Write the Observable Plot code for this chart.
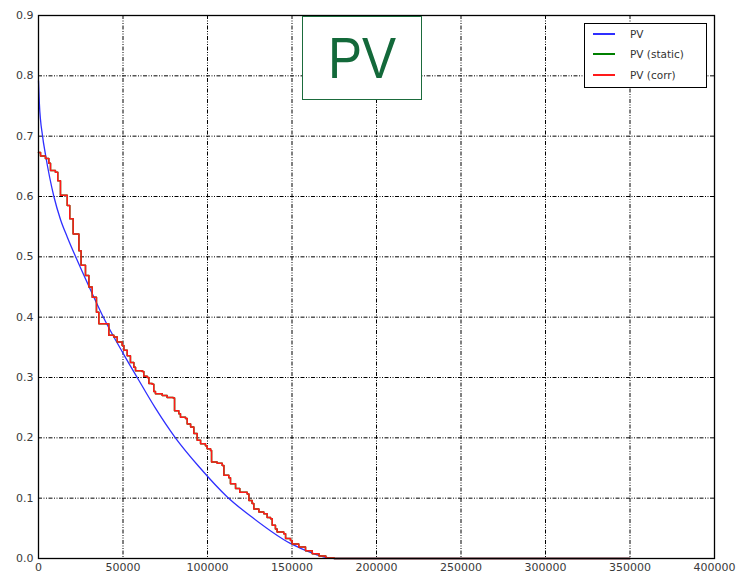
<!DOCTYPE html>
<html>
<head>
<meta charset="utf-8">
<script src="https://cdn.jsdelivr.net/npm/d3@7"></script>
<script src="https://cdn.jsdelivr.net/npm/@observablehq/plot@0.6"></script>
<style>
  html, body { margin: 0; padding: 0; background: #fff; }
  #wrap { position: relative; width: 737px; height: 574px; font-family: "DejaVu Sans", sans-serif; }
  #wrap svg { position: absolute; left: 0; top: 0; }
  .legend { position: absolute; left: 584px; top: 23px; width: 123px; height: 65px; border: 1px solid #000; background: #fff; box-sizing: border-box; }
  .legend .row { position: absolute; left: 0; height: 14px; }
  .legend .sw { position: absolute; left: 8px; width: 22px; top: 6px; height: 1.5px; }
  .legend .lab { position: absolute; left: 45px; top: 0; font-size: 10.5px; line-height: 14px; color: #333; white-space: nowrap; }
  .pvbox { position: absolute; left: 302px; top: 16px; width: 120px; height: 84px; border: 1.5px solid #1b6b3c; box-sizing: border-box; background: #fff; }
  .pvbox span { position: absolute; left: 0; right: 0; top: 6px; text-align: center; font-family: "Liberation Sans", Arial, sans-serif; font-size: 58px; line-height: 70px; color: #13693a; transform: scaleX(0.88); }
</style>
</head>
<body>
<div id="wrap"></div>
<script>
// ---- data ----
const xTicks = [0, 50000, 100000, 150000, 200000, 250000, 300000, 350000, 400000];
const yTicks = [0.0, 0.1, 0.2, 0.3, 0.4, 0.5, 0.6, 0.7, 0.8, 0.9];

const seriesNames = ["PV", "PV (static)", "PV (corr)"];
const seriesColors = ["#2f2fff", "#008000", "#ff1a1a"];

// PV (smooth curve)
const pvX = [0, 500, 2400, 4100, 9100, 13000, 17000, 22000, 30000, 38000, 50500, 58400, 69000, 81000, 95000, 111700, 127000, 149000, 162000, 170000, 175000, 350000];
const pvY = [0.792, 0.755, 0.70, 0.67, 0.60, 0.562, 0.533, 0.50, 0.45, 0.402, 0.338, 0.30, 0.25, 0.20, 0.152, 0.102, 0.067, 0.025, 0.009, 0.002, 0, 0];

// PV (corr) — step function (value holds until next x)
const corrX = [0, 1200, 4100, 6100, 7100, 10000, 11400, 13000, 17000, 18500, 20500, 23900, 25200, 27800, 29800, 31800, 34300, 35700, 41600, 44600, 46600, 49500, 50500, 52500, 54400, 56400, 57400, 61300, 62300, 64300, 65300, 67300, 68200, 69200, 73200, 76100, 79700, 80500, 83000, 84000, 87000, 88000, 90000, 91900, 93900, 95900, 98800, 99800, 101800, 102400, 105700, 108700, 109700, 112600, 113600, 116600, 119100, 123500, 124500, 126400, 127400, 130400, 133300, 135300, 137300, 138300, 140200, 141200, 145100, 146200, 149100, 150100, 154000, 158000, 162000, 166000, 170000, 175000, 350000];
const corrY = [0.673, 0.667, 0.663, 0.655, 0.643, 0.640, 0.626, 0.602, 0.585, 0.563, 0.538, 0.51, 0.486, 0.469, 0.45, 0.433, 0.408, 0.389, 0.37, 0.367, 0.359, 0.353, 0.345, 0.336, 0.325, 0.317, 0.311, 0.31, 0.302, 0.30, 0.29, 0.289, 0.277, 0.273, 0.27, 0.267, 0.266, 0.245, 0.240, 0.234, 0.232, 0.223, 0.218, 0.207, 0.196, 0.190, 0.187, 0.182, 0.179, 0.160, 0.158, 0.154, 0.138, 0.134, 0.124, 0.116, 0.110, 0.107, 0.096, 0.091, 0.082, 0.077, 0.074, 0.068, 0.066, 0.055, 0.049, 0.044, 0.041, 0.033, 0.030, 0.024, 0.019, 0.013, 0.008, 0.004, 0.001, 0, 0];

// PV (static) — drawn beneath PV (corr), not visible separately
const staticX = corrX;
const staticY = corrY;

const pv = pvX.map((x, i) => ({x, y: pvY[i]}));
const corr = corrX.map((x, i) => ({x, y: corrY[i]}));
const stat = staticX.map((x, i) => ({x, y: staticY[i]}));

const dash = "4,1.5,1,1.5,1,1.5";

const chart = Plot.plot({
  width: 737,
  height: 574,
  marginLeft: 38,
  marginRight: 23,
  marginTop: 15,
  marginBottom: 16,
  style: {fontFamily: "DejaVu Sans, sans-serif", fontSize: "11px", color: "#3a3a3a", background: "transparent", overflow: "visible"},
  x: {domain: [0, 400000]},
  y: {domain: [0, 0.9]},
  marks: [
    Plot.gridX(xTicks, {stroke: "#000", strokeOpacity: 1, strokeWidth: 1, strokeDasharray: dash}),
    Plot.gridY(yTicks, {stroke: "#000", strokeOpacity: 1, strokeWidth: 1, strokeDasharray: dash}),
    Plot.axisX(xTicks, {tickSize: 0, tickPadding: 5, tickFormat: d => String(d), label: null}),
    Plot.axisY(yTicks, {tickSize: 0, tickPadding: 5, tickFormat: d3.format(".1f"), label: null}),
    Plot.line(pv, {x: "x", y: "y", stroke: seriesColors[0], strokeWidth: 1.3, curve: "monotone-x"}),
    Plot.line(stat, {x: "x", y: "y", stroke: seriesColors[1], strokeWidth: 1.5, curve: "step-after"}),
    Plot.line(corr, {x: "x", y: "y", stroke: seriesColors[2], strokeWidth: 1.5, curve: "step-after"}),
    Plot.frame({stroke: "#000", strokeWidth: 1.3})
  ]
});

const wrap = document.getElementById("wrap");
wrap.appendChild(chart);

// PV title box
const box = document.createElement("div");
box.className = "pvbox";
box.innerHTML = "<span>PV</span>";
wrap.appendChild(box);

// legend
const leg = document.createElement("div");
leg.className = "legend";
const rowTops = [3, 23, 44];
seriesNames.forEach((name, i) => {
  const row = document.createElement("div");
  row.className = "row";
  row.style.top = rowTops[i] + "px";
  row.innerHTML = `<div class="sw" style="background:${seriesColors[i]}"></div><div class="lab">${name}</div>`;
  leg.appendChild(row);
});
wrap.appendChild(leg);
</script>
</body>
</html>
